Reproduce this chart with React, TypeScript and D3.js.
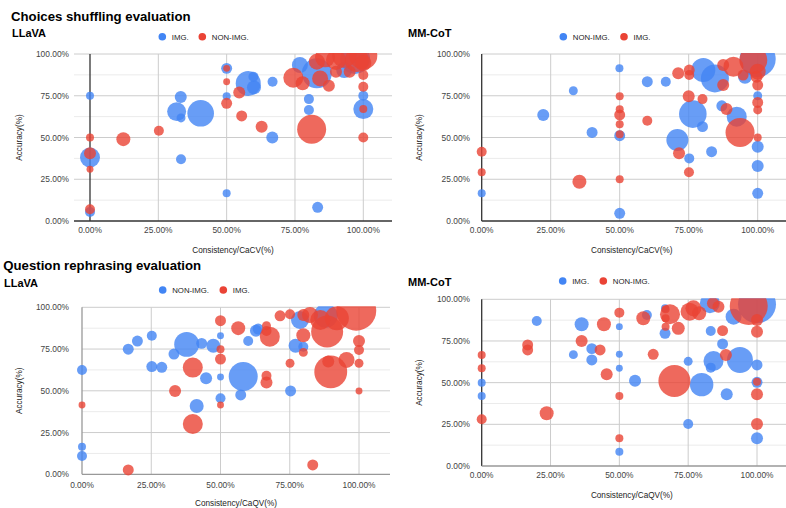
import React from "react";
import * as d3 from "d3";

type P = [number, number, number]; // [consistency %, accuracy %, size]

const BLUE = "#4285F4";
const RED = "#EA4335";

const xTicks = [0, 25, 50, 75, 100];
const yTicks = [0, 25, 50, 75, 100];
const yMinor = [12.5, 37.5, 62.5, 87.5];

const sectionTitles = ["Choices shuffling evaluation", "Question rephrasing evaluation"];
const modelNames = ["LLaVA", "MM-CoT", "LLaVA", "MM-CoT"];
const xTitles = ["Consistency/CaCV(%)", "Consistency/CaCV(%)", "Consistency/CaQV(%)", "Consistency/CaQV(%)"];
const yTitle = "Accuracy(%)";

// Panel 1: LLaVA, choices shuffling (blue = IMG., red = NON-IMG.)
const llavaCsImg: P[] = [
  [0, 75, 16], [0, 38, 100], [0, 5.4, 25], [33.2, 74.2, 36], [31.7, 65.5, 90],
  [33.3, 61.7, 20], [40.5, 64.5, 177], [50, 91.4, 30], [50, 74.7, 16], [57.9, 82.4, 156],
  [59.8, 86.4, 25], [60, 80, 49], [66.8, 83.4, 25], [76.8, 93.4, 64], [83, 88.4, 225],
  [80.1, 73, 25], [80.1, 66.5, 25], [100, 75, 25], [100, 67, 100], [93, 90.4, 64],
  [97, 97, 225], [33.3, 37, 25], [50, 16.6, 16], [66.7, 50, 36], [83.3, 8.2, 30],
];
const llavaCsNon: P[] = [
  [50, 91.4, 12], [50, 83.4, 12], [50, 70.5, 30], [54.6, 77, 36], [55.5, 62.9, 30],
  [62.8, 56.4, 36], [74.4, 85.8, 100], [77.8, 82.5, 49], [84.2, 85.4, 64], [87.4, 81, 36],
  [83, 95.4, 64], [90, 96.4, 100], [97.6, 96.4, 144], [90, 89.4, 36], [95, 89.4, 36],
  [100, 94.6, 64], [100, 87.4, 25], [100, 80.4, 25], [100, 67, 16], [81.1, 54.9, 210],
  [100, 50, 25], [12.2, 49, 49], [25.2, 54, 25], [0, 50, 16], [0, 40.5, 36],
  [0, 31, 12], [0, 7, 25], [86, 98, 100], [93, 99, 144], [100, 99, 196],
];

// Panel 2: MM-CoT, choices shuffling (blue = NON-IMG., red = IMG.)
const mmcotCsNon: P[] = [
  [49.9, 91.4, 16], [60, 83.4, 30], [66.7, 83.4, 25], [33.2, 78, 20], [22.3, 63.5, 36],
  [40, 53, 30], [76.5, 64, 190], [80, 56.5, 30], [80.3, 90.4, 144], [84.5, 85.4, 196],
  [87, 69, 30], [92.4, 62.5, 100], [100, 75, 20], [95.4, 86.4, 49], [100, 97, 324],
  [50, 51.1, 30], [70.9, 48.5, 121], [75.2, 37.5, 25], [83.3, 41.5, 30], [100, 44.5, 36],
  [100, 33, 36], [100, 16.6, 30], [0, 16.6, 16], [50, 4.6, 30],
];
const mmcotCsImg: P[] = [
  [71.2, 88.5, 36], [75.2, 90.4, 30], [75.2, 87.4, 25], [50, 74.7, 16], [50, 66.9, 16],
  [50, 63.5, 30], [50, 58, 16], [60, 60, 25], [75, 74.7, 36], [80, 73, 25],
  [87.5, 81.4, 36], [88.7, 67, 36], [93.6, 53, 210], [100, 81.4, 30], [100, 71, 30],
  [100, 66.5, 20], [91.2, 92.4, 100], [98.4, 96.4, 196], [100, 89.4, 64], [87.5, 93.4, 36],
  [94.7, 87.4, 30], [99.6, 86.4, 36], [100, 50, 16], [71.5, 40.5, 36], [75.1, 29.2, 25],
  [35.4, 23.5, 49], [50, 25, 16], [50, 52, 16], [0, 41.5, 25], [0, 29.2, 16],
];

// Panel 3: LLaVA, question rephrasing (blue = NON-IMG., red = IMG.)
const llavaQrNon: P[] = [
  [0, 62.5, 25], [16.7, 74.9, 30], [20, 79.8, 30], [25.2, 83, 25], [25.2, 64.5, 30],
  [28.8, 64.1, 30], [33.2, 72, 30], [37.8, 77.8, 156], [43.2, 78.4, 30], [47.4, 77, 49],
  [50, 83, 12], [44.8, 57.5, 36], [50, 58.3, 12], [58.2, 58.6, 210], [60, 79.8, 25],
  [62.8, 86, 36], [63.6, 87, 30], [77.1, 77, 49], [79.9, 76.4, 25], [78.7, 92.4, 81],
  [88, 95, 144], [41.4, 40.9, 49], [50, 45.5, 25], [57.3, 47.5, 30], [75.3, 49.9, 30],
  [0, 16.5, 16], [0, 11, 25],
];
const llavaQrImg: P[] = [
  [50, 92, 30], [56.4, 87.5, 49], [50, 74.9, 16], [50, 69, 30], [40, 63.9, 100],
  [66.6, 89, 20], [66.6, 85.8, 25], [67.8, 82.4, 100], [71.5, 94.9, 30], [75.1, 95.8, 25],
  [75.1, 66.5, 20], [79.9, 83.3, 49], [79.9, 73, 20], [79.9, 95.4, 36], [88.5, 85.5, 256],
  [99, 98, 400], [100, 79.8, 36], [100, 74.4, 25], [100, 66.5, 20], [95.5, 68.5, 64],
  [88.9, 67.5, 36], [89.8, 61.3, 270], [66.6, 59, 25], [66.6, 55, 36], [33.6, 49.9, 36],
  [40, 30.1, 100], [50, 41.5, 12], [100, 49.9, 12], [83.3, 5.6, 30], [16.7, 2.6, 30],
  [0, 41.5, 12], [82.3, 95.4, 64], [86, 92.4, 100], [92, 93.4, 144],
];

// Panel 4: MM-CoT, question rephrasing (blue = IMG., red = NON-IMG.)
const mmcotQrImg: P[] = [
  [20, 87, 25], [36.3, 85, 49], [33.3, 66.8, 20], [40, 70.4, 30], [40, 63.6, 30],
  [50, 83.6, 12], [50, 67, 12], [50, 58.6, 12], [55.7, 51.2, 36], [60, 90.6, 25],
  [66.6, 94.6, 16], [66.6, 79.6, 30], [75, 62.8, 20], [79.9, 48.8, 137], [83.2, 81, 25],
  [84.2, 63, 100], [83.2, 59, 25], [87.5, 73.2, 30], [93.8, 63.6, 169], [100, 60.6, 30],
  [100, 50.2, 30], [89, 43, 36], [0, 50, 16], [0, 42, 16], [50, 8.6, 16],
  [75, 25.2, 25], [100, 16.6, 36], [82.9, 97.6, 100], [91.5, 89.6, 64], [100, 97, 361],
];
const mmcotQrNon: P[] = [
  [0, 66.6, 16], [0, 58.6, 16], [0, 28, 25], [16.7, 72.6, 30], [16.7, 69.6, 30],
  [36.3, 75, 36], [43, 69.6, 30], [44.4, 85, 49], [45.4, 55, 36], [50, 92, 25],
  [58.7, 88.6, 49], [62.3, 67, 30], [66.8, 94, 16], [66.8, 88.6, 16], [66.8, 83.6, 16],
  [68.4, 91, 100], [71.4, 82.6, 42], [75.5, 92.6, 81], [76.9, 94.6, 64], [79, 91.6, 49],
  [70, 51, 256], [87.5, 81.2, 30], [88.7, 66.6, 36], [84, 97.6, 36], [86, 95.6, 36],
  [97, 96, 361], [100, 87.6, 36], [100, 80.6, 36], [50, 42, 16], [50, 16.6, 16],
  [23.6, 31.6, 49], [100, 43, 36], [100, 25.2, 36], [100, 50.6, 16],
];

type Series = { name: string; color: string; data: P[] };

const panelSeries: Series[][] = [
  [{ name: "IMG.", color: BLUE, data: llavaCsImg }, { name: "NON-IMG.", color: RED, data: llavaCsNon }],
  [{ name: "NON-IMG.", color: BLUE, data: mmcotCsNon }, { name: "IMG.", color: RED, data: mmcotCsImg }],
  [{ name: "NON-IMG.", color: BLUE, data: llavaQrNon }, { name: "IMG.", color: RED, data: llavaQrImg }],
  [{ name: "IMG.", color: BLUE, data: mmcotQrImg }, { name: "NON-IMG.", color: RED, data: mmcotQrNon }],
];

type Cfg = {
  x0: number; x1: number; boxL: number; boxR: number; yTop: number; yBot: number;
  labelX: number; xTickY: number; xTitleY: number; yTitleX: number;
  nameX: number; nameY: number; legendY: number; legendX: [number, number];
  zeroColor: string; baseColor: string;
};

const layouts: Cfg[] = [
  { x0: 90, x1: 363.3, boxL: 74, boxR: 392, yTop: 54, yBot: 221, labelX: 69, xTickY: 233, xTitleY: 253, yTitleX: 22,
    nameX: 12, nameY: 37, legendY: 36.7, legendX: [162.3, 202.3], zeroColor: "#333", baseColor: "#333" },
  { x0: 481.7, x1: 757.7, boxL: 481.7, boxR: 786, yTop: 54, yBot: 221, labelX: 470, xTickY: 233, xTitleY: 253, yTitleX: 422,
    nameX: 408, nameY: 37, legendY: 36.7, legendX: [563.3, 624], zeroColor: "#333", baseColor: "#333" },
  { x0: 82, x1: 359, boxL: 82, boxR: 390, yTop: 307.3, yBot: 474.3, labelX: 69, xTickY: 487.5, xTitleY: 505.5, yTitleX: 22,
    nameX: 4, nameY: 287, legendY: 290, legendX: [162.7, 223.3], zeroColor: "#999", baseColor: "#999" },
  { x0: 481.7, x1: 757, boxL: 481.7, boxR: 786, yTop: 299.3, yBot: 466, labelX: 470, xTickY: 477.7, xTitleY: 497.5, yTitleX: 422,
    nameX: 408, nameY: 286, legendY: 281, legendX: [562.7, 603.3], zeroColor: "#333", baseColor: "#999" },
];

const FONT = "'Liberation Sans', Arial, sans-serif";
const fmt = (v: number) => v.toFixed(2) + "%";
const rScale = d3.scaleSqrt().domain([0, 400]).range([0, 20]);

function Panel({ idx }: { idx: number }) {
  const c = layouts[idx];
  const series = panelSeries[idx];
  const x = d3.scaleLinear().domain([0, 100]).range([c.x0, c.x1]);
  const y = d3.scaleLinear().domain([0, 100]).range([c.yBot, c.yTop]);
  // blue series first, red series on top; within a series larger bubbles underneath
  const drawOrder = [...series].sort((a, b) => (a.color === BLUE ? -1 : 1) - (b.color === BLUE ? -1 : 1));
  const pts = drawOrder.flatMap((s) =>
    s.data.map((d) => ({ x: d[0], y: d[1], s: d[2], color: s.color })).sort((a, b) => b.s - a.s)
  );
  const clipId = `clip${idx}`;
  const midY = (c.yTop + c.yBot) / 2;
  return (
    <g>
      <defs>
        <clipPath id={clipId}>
          <rect x={c.boxL - 25} y={c.yTop - 1} width={786 - c.boxL + 25} height={c.yBot - c.yTop + 30} />
        </clipPath>
      </defs>
      {yMinor.map((v) => (
        <line key={"m" + v} x1={c.boxL} x2={c.boxR} y1={y(v)} y2={y(v)} stroke="#ebebeb" strokeWidth={1} />
      ))}
      {yTicks.filter((v) => v > 0).map((v) => (
        <line key={"g" + v} x1={c.boxL} x2={c.boxR} y1={y(v)} y2={y(v)} stroke="#cccccc" strokeWidth={1} />
      ))}
      {xTicks.filter((v) => v > 0).map((v) => (
        <line key={"v" + v} x1={x(v)} x2={x(v)} y1={c.yTop} y2={c.yBot} stroke="#cccccc" strokeWidth={1} />
      ))}
      <line x1={x(0)} x2={x(0)} y1={c.yTop} y2={c.yBot} stroke={c.zeroColor} strokeWidth={1.3} />
      <line x1={c.boxL} x2={c.boxR} y1={c.yBot} y2={c.yBot} stroke={c.baseColor} strokeWidth={1.3} />
      <g clipPath={`url(#${clipId})`}>
        {pts.map((p, i) => (
          <circle key={i} cx={x(p.x)} cy={y(p.y)} r={rScale(p.s)} fill={p.color} fillOpacity={0.8} />
        ))}
      </g>
      {yTicks.map((v) => (
        <text key={"yl" + v} x={c.labelX} y={y(v) + 3} textAnchor="end" fontSize={8.4} fill="#444" fontFamily={FONT}>
          {fmt(v)}
        </text>
      ))}
      {xTicks.map((v) => (
        <text key={"xl" + v} x={x(v)} y={c.xTickY} textAnchor="middle" fontSize={8.4} fill="#444" fontFamily={FONT}>
          {fmt(v)}
        </text>
      ))}
      <text x={(c.boxL + c.boxR) / 2 + (idx % 2 === 1 ? -2 : 0)} y={c.xTitleY} textAnchor="middle" fontSize={8.2} fill="#222" fontFamily={FONT}>
        {xTitles[idx]}
      </text>
      <text transform={`translate(${c.yTitleX},${midY}) rotate(-90)`} textAnchor="middle" fontSize={8.2} fill="#222" fontFamily={FONT}>
        {yTitle}
      </text>
      <text x={c.nameX} y={c.nameY} fontSize={11} fontWeight="bold" fill="#000" fontFamily={FONT}>
        {modelNames[idx]}
      </text>
      {series.map((s, i) => (
        <g key={"lg" + i}>
          <circle cx={c.legendX[i]} cy={c.legendY} r={3.8} fill={s.color} />
          <text x={c.legendX[i] + 9.5} y={c.legendY + 2.8} fontSize={7.8} fill="#222" fontFamily={FONT}>
            {s.name}
          </text>
        </g>
      ))}
    </g>
  );
}

export default function App() {
  return (
    <svg width={786} height={508} style={{ position: "absolute", left: 0, top: 0, background: "#fff" }}>
      <rect width={786} height={508} fill="#fff" />
      <text x={11} y={20.5} fontSize={13.2} fontWeight="bold" fill="#000" fontFamily={FONT}>
        {sectionTitles[0]}
      </text>
      <text x={3.3} y={270} fontSize={13.2} fontWeight="bold" fill="#000" fontFamily={FONT}>
        {sectionTitles[1]}
      </text>
      {[0, 1, 2, 3].map((i) => (
        <Panel key={i} idx={i} />
      ))}
    </svg>
  );
}
